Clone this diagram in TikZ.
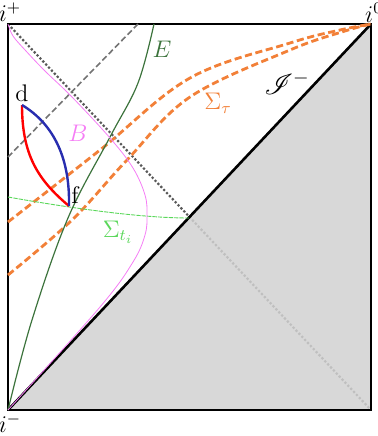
\documentclass[tikz,border=0pt]{standalone}
\usepackage{mathrsfs}
\definecolor{sigorange}{RGB}{242,128,56}
\definecolor{sigti}{RGB}{90,215,90}
\definecolor{curveE}{RGB}{60,115,60}
\definecolor{curveB}{RGB}{245,125,245}
\definecolor{pathblue}{RGB}{40,45,175}
\tikzset{
  edge_n/.style = {draw=black, line width=1pt},% bords du diagramme
  scri_n/.style = {draw=black, line width=1.3pt},% scri moins
  shade_n/.style = {fill=black!18, fill opacity=0.85},% region grise
  diag_n/.style = {draw=black!65, line width=1.1pt, densely dotted},
  ray_n/.style = {draw=black!55, line width=0.8pt, dash pattern=on 3pt off 1.5pt},
  tau_n/.style = {draw=sigorange, line width=1.4pt, dash pattern=on 3.6pt off 1.8pt},
  ti_n/.style = {draw=sigti, line width=0.45pt, dash pattern=on 2.2pt off 0.5pt},
  E_n/.style = {draw=curveE, line width=0.6pt},
  B_n/.style = {draw=curveB, line width=0.4pt},
  red_n/.style = {draw=red, line width=1.2pt},
  blue_n/.style = {draw=pathblue, line width=1.2pt},
  lbl/.style = {inner sep=0pt, font=\large},
}

\begin{document}
\begin{tikzpicture}[x=0.5pt,y=-0.5pt]
\useasboundingbox (0,0) rectangle (378,436);

% coins
\coordinate (iplus) at (8,24);
\coordinate (izero) at (371,24);
\coordinate (iminus) at (8,410);
\coordinate (corner) at (371,410);
\coordinate (d) at (22,105);
\coordinate (f) at (69,206);

\draw [diag_n] (iplus) -- (corner);
\fill [shade_n] (iminus) -- (izero) -- (corner) -- cycle;
\draw [edge_n] (iplus) -- (izero) -- (corner) -- (iminus) -- cycle;
\draw [scri_n] (iminus) -- (izero);

%\draw [ray_n] (8,157) -- (138,24);
\coordinate (rayA) at (8,157);
\coordinate (rayB) at (138,24);
\draw [ray_n] (rayA) -- (rayB);

% surfaces Sigma_tau
\draw [tau_n] plot[smooth, tension=0.6] coordinates {(8,222) (100,150) (190,78) (290,43) (340,30) (izero)};
\draw [tau_n] plot[smooth, tension=0.6] coordinates {(8,275) (72,220) (127,160) (190,97) (290,50) (345,31) (izero)};

% surface Sigma_ti
\coordinate (tiA) at (8,197);
\coordinate (tiB) at (189,218);
\draw [ti_n] (tiA) .. controls (70,208) and (140,218) .. (tiB);

% courbes E et B
\draw [E_n] plot[smooth, tension=0.6] coordinates {(iminus) (32,320) (68,218) (110,137) (138,83) (154,24)};
\draw [B_n] plot[smooth, tension=0.6] coordinates {(iplus) (13,36) (26,51) (45,71) (72,97) (110,138) (133,168) (145,195) (147,215) (145,235) (133,262) (100,307) (iminus)};

% chemins d -> f
\draw [red_n] (d) .. controls (22,155) and (38,180) .. (f);
\draw [blue_n] (d) .. controls (55,125) and (70,160) .. (f);

% etiquettes
\node [lbl] (lip) at (10,12) {$i^{+}$};
\node [lbl] (liz) at (374,13) {$i^{0}$};
\node [lbl] (lim) at (10,423) {$i^{-}$};
\node [lbl, font=\Large] (lscri) at (287,83) {$\mathscr{I}^{-}$};
\node [lbl, text=sigorange] (ltau) at (218,103) {$\Sigma_{\tau}$};
\node [lbl, text=sigti] (lti) at (118,232) {$\Sigma_{t_i}$};
\node [lbl, text=curveE] (lE) at (162,49) {$E$};
\node [lbl, text=curveB] (lB) at (78,133) {$B$};
\node [lbl] (ld) at (22,93) {d};
\node [lbl] (lf) at (75,195) {f};
\end{tikzpicture}
\end{document}
